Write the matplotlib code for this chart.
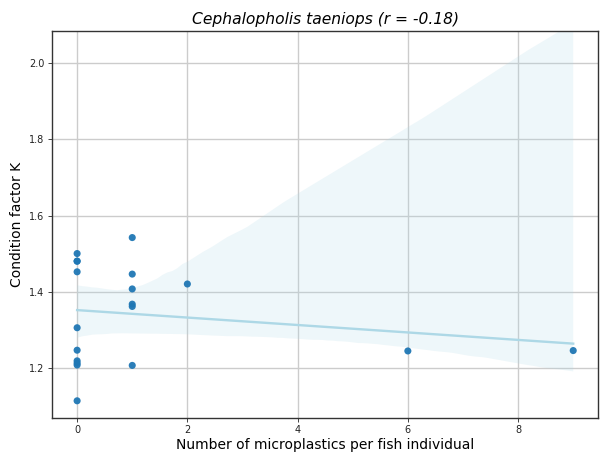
import matplotlib
matplotlib.use("Agg")
import matplotlib.pyplot as plt
import numpy as np
import seaborn as sns

# Microplastic counts per individual and condition factor K
microplastics = [0, 0, 0, 0, 0, 0, 0, 0, 0, 0,
                 1, 1, 1, 1, 1, 1,
                 2, 6, 9]
condition_k = [1.500, 1.480, 1.480, 1.452, 1.305, 1.246, 1.218, 1.212, 1.207, 1.113,
               1.542, 1.446, 1.407, 1.367, 1.361, 1.206,
               1.420, 1.244, 1.245]
x_ticks = [0, 2, 4, 6, 8]
y_ticks = [1.2, 1.4, 1.6, 1.8, 2.0]
species = "Cephalopholis taeniops"

x = np.array(microplastics, dtype=float)
y = np.array(condition_k, dtype=float)
r = np.corrcoef(x, y)[0, 1]

fig = plt.figure(figsize=(6.02, 4.59), dpi=100)
ax = fig.add_axes([0.0869, 0.090, 0.9065, 0.8431])

sns.regplot(x=x, y=y, ax=ax, ci=95, seed=3,
            scatter_kws=dict(color="#1f77b4", alpha=0.95, s=26, edgecolors="none", zorder=3),
            line_kws=dict(color="lightblue", lw=1.7))
for poly in ax.collections[1:]:
    poly.set_facecolor("lightblue")
    poly.set_edgecolor("none")
    poly.set_alpha(0.2)

ax.set_xlim(-0.45, 9.45)
ax.set_ylim(1.0686, 2.0857)
ax.grid(True, color="#cccccc", linewidth=1)
ax.set_axisbelow(True)
ax.set_xticks(x_ticks)
ax.set_yticks(y_ticks)
ax.tick_params(labelsize=7, length=3, pad=2.5, width=0.6, colors="#222222")
ax.set_xlabel("Number of microplastics per fish individual", fontsize=10, labelpad=2)
ax.set_ylabel("Condition factor K", fontsize=10, labelpad=4)
ax.set_title(f"{species} (r = {r:.2f})", fontsize=11.2, style="italic", pad=5)
for s in ax.spines.values():
    s.set_color("#333333")
    s.set_linewidth(1)

fig.savefig("out.png", dpi=100)
